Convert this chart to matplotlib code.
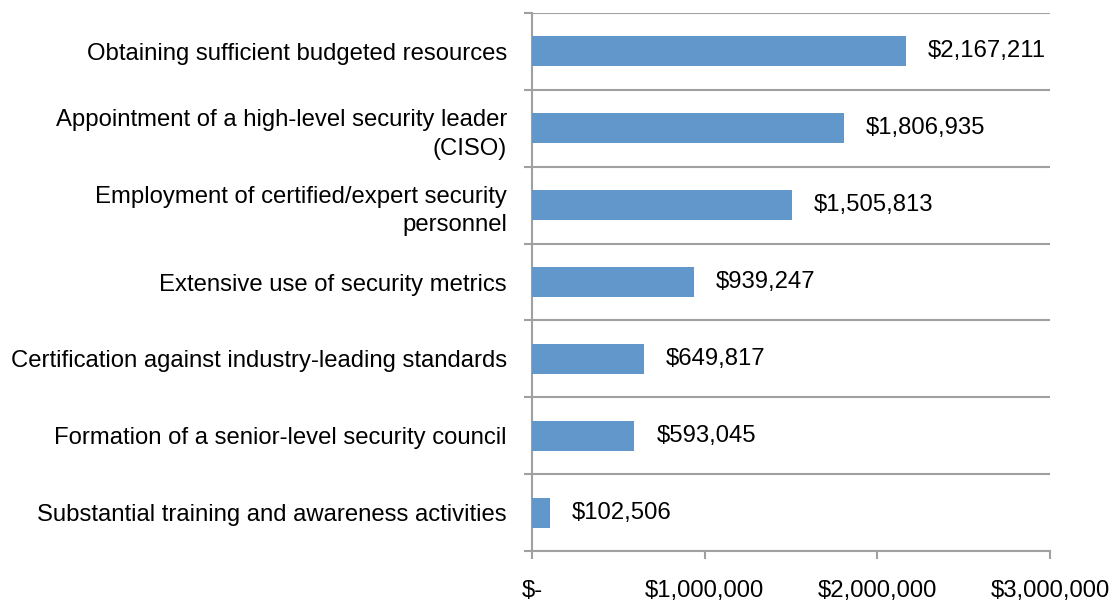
import matplotlib
matplotlib.use("Agg")
import matplotlib.pyplot as plt
import numpy as np

categories = [
    "Obtaining sufficient budgeted resources",
    "Appointment of a high-level security leader\n(CISO)",
    "Employment of certified/expert security\npersonnel",
    "Extensive use of security metrics",
    "Certification against industry-leading standards",
    "Formation of a senior-level security council",
    "Substantial training and awareness activities",
]
values = [2167211, 1806935, 1505813, 939247, 649817, 593045, 102506]
value_labels = ["$2,167,211", "$1,806,935", "$1,505,813", "$939,247",
                "$649,817", "$593,045", "$102,506"]
x_ticks = [0, 1000000, 2000000, 3000000]
x_tick_labels = ["$-", "$1,000,000", "$2,000,000", "$3,000,000"]

plt.rcParams['font.family'] = ['Liberation Sans', 'DejaVu Sans']
FS = 17.2
grey = '#A0A0A0'

fig = plt.figure(figsize=(11.15, 6.03), dpi=100)
ax = fig.add_axes([0.4771, 0.0862, 0.9417 - 0.4771, 0.9784 - 0.0862])

n = len(categories)
pos = np.arange(n)
ax.barh(pos, values, height=0.39, color='#6297CB', zorder=3)

for p, v, lab in zip(pos, values, value_labels):
    ax.annotate(lab, xy=(v, p), xytext=(22, 0), textcoords='offset pixels',
                ha='left', va='center', fontsize=FS, color='black')

ax.set_xlim(0, 3000000)
ax.set_ylim(n - 0.5, -0.5)

ax.set_xticks(x_ticks)
ax.set_xticklabels(x_tick_labels, fontsize=FS)
ax.tick_params(axis='x', direction='out', length=5.5, width=1.5, color=grey, pad=15.5)

bounds = np.arange(n + 1) - 0.5
ax.set_yticks(bounds)
ax.set_yticklabels([])
ax.tick_params(axis='y', which='major', direction='out', length=5.5, width=1.5, color=grey)
ax.set_yticks(pos, minor=True)
ax.set_yticklabels(categories, minor=True, fontsize=FS, ha='right', linespacing=1.4)
ax.tick_params(axis='y', which='minor', length=0, pad=18)

ax.grid(axis='y', which='major', color=grey, linewidth=1.5, zorder=0)
ax.set_axisbelow(True)

for s in ['top', 'right']:
    ax.spines[s].set_visible(False)
for s in ['left', 'bottom']:
    ax.spines[s].set_color(grey)
    ax.spines[s].set_linewidth(1.5)

fig.savefig('out.png', dpi=100)
